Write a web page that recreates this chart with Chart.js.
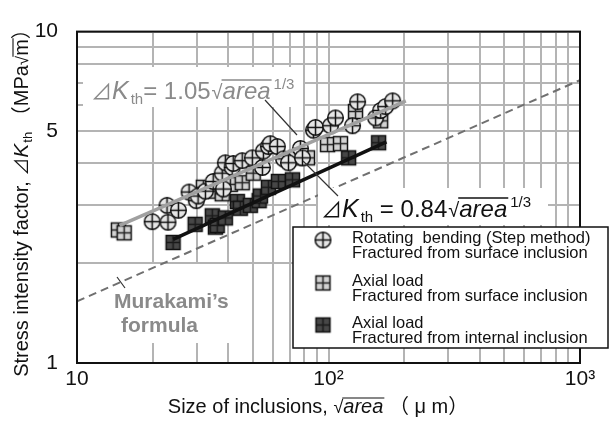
<!DOCTYPE html>
<html>
<head>
<meta charset="utf-8">
<script src="https://cdn.jsdelivr.net/npm/chart.js@4.4.0/dist/chart.umd.min.js"></script>
<style>
  html, body { margin: 0; background: #fff; }
</style>
</head>
<body>
<canvas id="chart" width="612" height="423"></canvas>
<script>
// rotating bending, fractured from surface inclusion
const rotSize = [19.9, 22.8, 23.0, 25.3, 27.9, 29.8, 30.3, 32.4, 34.8, 37.8, 38.2, 38.9, 41.4, 41.8, 45.4, 49.8, 54.6, 55.1, 57.7, 58.7, 62.6, 66.2, 69.3, 77.3, 78.8, 87.2, 88.8, 101.9, 106.6, 124.6, 130.5, 153.9, 161.2, 168.7, 179.9]
const rotDK = [2.67, 2.99, 2.66, 2.89, 3.28, 3.09, 3.19, 3.30, 3.53, 3.74, 3.35, 4.02, 3.89, 4.00, 4.08, 4.16, 3.89, 4.36, 4.50, 4.59, 4.50, 4.13, 4.02, 4.44, 4.16, 5.04, 5.14, 5.20, 5.49, 5.20, 6.14, 5.49, 5.78, 5.94, 6.18]
// axial load, surface inclusion
const axSurfSize = [14.6, 15.4, 31.8, 35.5, 37.8, 40.7, 45.4, 50.2, 73.9, 82.5, 99.1, 111.6, 128.1, 161.2]
const axSurfDK = [2.52, 2.47, 3.39, 3.30, 3.24, 3.46, 3.50, 3.74, 4.16, 4.16, 4.56, 4.59, 5.74, 5.38]
// axial load, internal inclusion
const axIntSize = [24.1, 29.5, 34.5, 35.5, 36.1, 38.9, 43.4, 44.6, 48.9, 53.0, 53.6, 57.7, 63.2, 71.9, 120.2, 158.2]
const axIntDK = [2.31, 2.62, 2.78, 2.57, 2.60, 2.74, 3.07, 2.93, 2.99, 3.09, 3.19, 3.39, 3.53, 3.57, 4.16, 4.62]
// fitted lines and Murakami's formula (end points)
const fitSurfX = [14.8, 203], fitSurfY = [2.60, 6.18]
const fitIntX = [24.1, 170], fitIntY = [2.36, 4.65]
const murakamiX = [10, 1000], murakamiY = [1.535, 7.14]

const xGrid = [10, 20, 30, 40, 50, 60, 70, 80, 90, 100, 200, 300, 400, 500, 600, 700, 800, 900, 1000]
const yGrid = [1, 2, 3, 4, 5, 6, 7, 8, 9, 10]
const xLabels = { 10: '10', 100: '10²', 1000: '10³' }
const yLabels = { 1: '1', 5: '5', 10: '10' }

const FONT = '"Liberation Sans", "DejaVu Sans", "Noto Sans CJK JP", sans-serif'
const TRI = '"Noto Sans CJK JP", "DejaVu Sans", sans-serif'

const pts = (xs, ys) => xs.map((x, i) => ({ x, y: ys[i] }))

function makeMarker(kind) {
  const s = 19, m = s / 2
  const c = document.createElement('canvas')
  c.width = c.height = s
  const g = c.getContext('2d')
  g.lineWidth = 1.5
  g.strokeStyle = '#111'
  if (kind === 'circle') {
    g.fillStyle = '#e6e6e6'
    g.beginPath(); g.arc(m, m, 7.8, 0, 2 * Math.PI); g.fill(); g.stroke()
    g.beginPath(); g.moveTo(m - 7.8, m); g.lineTo(m + 7.8, m); g.moveTo(m, m - 7.8); g.lineTo(m, m + 7.8); g.stroke()
  } else {
    g.fillStyle = kind === 'light' ? '#d2d2d2' : '#474747'
    g.fillRect(m - 7, m - 7, 14, 14)
    g.strokeRect(m - 7, m - 7, 14, 14)
    g.strokeStyle = kind === 'light' ? '#222' : '#1a1a1a'
    g.beginPath(); g.moveTo(m - 7, m); g.lineTo(m + 7, m); g.moveTo(m, m - 7); g.lineTo(m, m + 7); g.stroke()
  }
  return c
}
const mkCircle = makeMarker('circle')
const mkLight = makeMarker('light')
const mkDark = makeMarker('dark')

// draws a run of text pieces, returns end x
function runs(ctx, x, y, parts) {
  for (const p of parts) {
    ctx.font = p.f
    const w = ctx.measureText(p.t).width
    ctx.fillText(p.t, x, y + (p.dy || 0))
    if (p.over) {
      ctx.save()
      ctx.lineWidth = p.over.w
      ctx.strokeStyle = ctx.fillStyle
      ctx.beginPath()
      ctx.moveTo(x - p.over.back, y + p.over.dy)
      ctx.lineTo(x + w + 1, y + p.over.dy)
      ctx.stroke()
      ctx.restore()
    }
    x += w + (p.gap || 0)
  }
  return x
}
const widthOf = (ctx, parts) => parts.reduce((s, p) => { ctx.font = p.f; return s + ctx.measureText(p.t).width + (p.gap || 0) }, 0)

function formula(ctx, x, y, coef, color, eqSpace) {
  ctx.fillStyle = color
  ctx.textBaseline = 'alphabetic'
  ctx.textAlign = 'left'
  runs(ctx, x, y, [
    { t: '⊿', f: '21px ' + TRI },
    { t: 'K', f: 'italic 25px ' + FONT, gap: 2 },
    { t: 'th', f: '15px ' + FONT, dy: 5 },
    { t: (eqSpace ? ' = ' : '= ') + coef, f: '24px ' + FONT, gap: 1 },
    { t: '√', f: '20px ' + FONT },
    { t: 'area', f: 'italic 24px ' + FONT, over: { dy: -19, back: 1, w: 1.3 }, gap: 3 },
    { t: '1/3', f: '15px ' + FONT, dy: -10 }
  ])
}

const decor = {
  id: 'decor',
  beforeDatasetsDraw(chart) {
    const ctx = chart.ctx
    ctx.save()
    ctx.fillStyle = '#fff'
    ctx.fillRect(112, 264, 128, 79)   // Murakami label backing
    ctx.restore()
  },
  afterDatasetsDraw(chart) {
    const ctx = chart.ctx, a = chart.chartArea
    ctx.save()
    // frame
    ctx.strokeStyle = '#111'
    ctx.lineWidth = 2
    ctx.strokeRect(a.left, a.top, a.right - a.left, a.bottom - a.top)

    // formula boxes
    ctx.fillStyle = '#fff'
    ctx.fillRect(83, 67, 220, 40)
    ctx.fillRect(318, 188, 230, 37)

    // leader lines
    ctx.strokeStyle = '#333'
    ctx.lineWidth = 1.2
    ctx.beginPath()
    ctx.moveTo(265, 100); ctx.lineTo(297, 135)
    ctx.moveTo(303, 161); ctx.lineTo(338, 196)
    ctx.moveTo(117, 277); ctx.lineTo(125, 288)
    ctx.stroke()

    formula(ctx, 91, 99, '1.05', '#8a8a8a', false)
    formula(ctx, 321, 217, '0.84', '#111', true)

    // Murakami label
    ctx.fillStyle = '#8a8a8a'
    ctx.font = 'bold 21px ' + FONT
    ctx.textBaseline = 'alphabetic'
    ctx.fillText('Murakami’s', 114, 308)
    ctx.fillText('formula', 121, 332)

    // legend box
    ctx.fillStyle = '#fff'
    ctx.fillRect(293, 227, 315, 121)
    ctx.strokeStyle = '#111'
    ctx.lineWidth = 1.5
    ctx.strokeRect(293, 227, 315, 121)
    const rows = [
      [mkCircle, 'Rotating  bending (Step method)', 'Fractured from surface inclusion', 240],
      [mkLight, 'Axial load', 'Fractured from surface inclusion', 283],
      [mkDark, 'Axial load', 'Fractured from internal inclusion', 325]
    ]
    ctx.fillStyle = '#111'
    ctx.font = '16.5px ' + FONT
    ctx.textBaseline = 'middle'
    for (const [img, l1, l2, cy] of rows) {
      ctx.drawImage(img, 323 - img.width / 2, cy - img.height / 2)
      ctx.fillText(l1, 352, cy - 2)
      ctx.fillText(l2, 352, cy + 13)
    }

    // axis titles
    ctx.fillStyle = '#111'
    ctx.textBaseline = 'alphabetic'
    const xParts = [
      { t: 'Size of inclusions, ', f: '20px ' + FONT },
      { t: '√', f: '18px ' + FONT },
      { t: 'area', f: 'italic 20px ' + FONT, over: { dy: -15, back: 1, w: 1.1 } },
      { t: ' （ μ m）', f: '20px ' + FONT }
    ]
    runs(ctx, 318 - widthOf(ctx, xParts) / 2, 413, xParts)

    ctx.translate(28, 198)
    ctx.rotate(-Math.PI / 2)
    const yParts = [
      { t: 'Stress intensity factor, ', f: '20px ' + FONT },
      { t: '⊿', f: '18px ' + TRI },
      { t: 'K', f: 'italic 21px ' + FONT, gap: 1 },
      { t: 'th', f: '13px ' + FONT, dy: 4 },
      { t: ' （MPa', f: '20px ' + FONT },
      { t: '√', f: '17px ' + FONT },
      { t: 'm', f: '20px ' + FONT, over: { dy: -15, back: 1, w: 1.1 } },
      { t: '）', f: '20px ' + FONT }
    ]
    runs(ctx, -widthOf(ctx, yParts) / 2, 0, yParts)
    ctx.restore()
  }
}

new Chart(document.getElementById('chart'), {
  type: 'scatter',
  data: {
    datasets: [
      { data: pts(murakamiX, murakamiY), type: 'line', showLine: true, borderColor: '#707070', borderWidth: 2, borderDash: [8, 5], pointRadius: 0, order: 3 },
      { data: pts(rotSize, rotDK), pointStyle: mkCircle, order: 2 },
      { data: pts(axSurfSize, axSurfDK), pointStyle: mkLight, order: 2 },
      { data: pts(axIntSize, axIntDK), pointStyle: mkDark, order: 2 },
      { data: pts(fitSurfX, fitSurfY), type: 'line', showLine: true, borderColor: '#a0a0a0', borderWidth: 3.5, pointRadius: 0, order: 1 },
      { data: pts(fitIntX, fitIntY), type: 'line', showLine: true, borderColor: '#111', borderWidth: 3.5, pointRadius: 0, order: 1 }
    ]
  },
  options: {
    responsive: false,
    animation: false,
    layout: { padding: { left: 0, top: 14, right: 32, bottom: 0 } },
    plugins: { legend: { display: false }, tooltip: { enabled: false } },
    scales: {
      x: {
        type: 'logarithmic', min: 10, max: 1000,
        afterBuildTicks: s => { s.ticks = xGrid.map(v => ({ value: v })) },
        afterFit: s => { s.height = 60 },
        ticks: { callback: v => xLabels[v] || '', autoSkip: false, maxRotation: 0, padding: 4, color: '#111', font: { family: FONT, size: 21 } },
        grid: { color: '#b4b4b4', lineWidth: 2, drawTicks: false },
        border: { color: '#111', width: 2 }
      },
      y: {
        type: 'logarithmic', min: 1, max: 10,
        afterBuildTicks: s => { s.ticks = yGrid.map(v => ({ value: v })) },
        afterFit: s => { s.width = 77 },
        ticks: { callback: v => yLabels[v] || '', autoSkip: false, padding: 19, color: '#111', font: { family: FONT, size: 21 } },
        grid: { color: '#b4b4b4', lineWidth: 2, drawTicks: false },
        border: { color: '#111', width: 2 }
      }
    }
  },
  plugins: [decor]
})
</script>
</body>
</html>
